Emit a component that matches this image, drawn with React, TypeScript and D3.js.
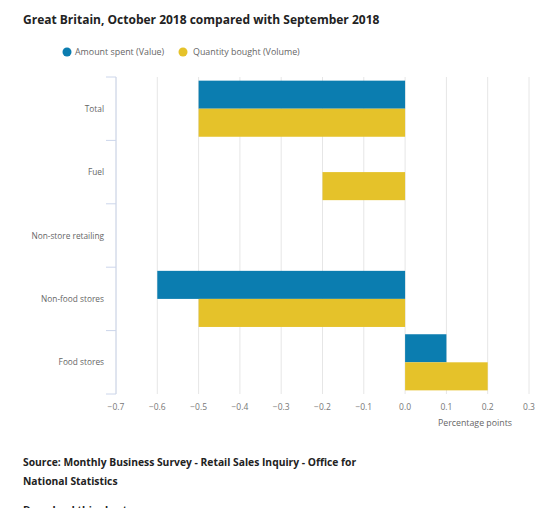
import * as d3 from "d3";

const categories = ["Total", "Fuel", "Non-store retailing", "Non-food stores", "Food stores"];
const seriesNames = ["Amount spent (Value)", "Quantity bought (Volume)"];
const valueSeries = [-0.5, null, null, -0.6, 0.1];
const volumeSeries = [-0.5, -0.2, null, -0.5, 0.2];
const xTicks = [-0.7, -0.6, -0.5, -0.4, -0.3, -0.2, -0.1, 0.0, 0.1, 0.2, 0.3];
const colors = ["#0b7db0", "#e5c22a"];

const width = 540;
const height = 508;
const font = "'Open Sans', 'Noto Sans', sans-serif";

export default function App() {
  const x = d3.scaleLinear().domain([-0.7, 0.3]).range([116, 529]);
  const y = d3.scaleBand().domain(categories).range([77, 394]).padding(0);
  const inner = d3
    .scaleBand()
    .domain(["value", "volume"])
    .range([0, y.bandwidth()])
    .paddingInner(0)
    .paddingOuter(0.13);

  const rows = categories.map((c, i) => ({
    cat: c,
    vals: [
      { key: "value", v: valueSeries[i], color: colors[0] },
      { key: "volume", v: volumeSeries[i], color: colors[1] },
    ],
  }));

  const boundaries = categories.map((c) => y(c) as number).concat([y.range()[1]]);

  return (
    <div style={{ position: "absolute", left: 0, top: 0 }}>
      <svg width={width} height={height} style={{ display: "block", fontFamily: font }}>
        <rect width={width} height={height} fill="#fff" />
        <text x={23} y={24} fontSize={12} fontWeight="bold" fill="#222">
          Great Britain, October 2018 compared with September 2018
        </text>

        {/* legend */}
        <g fontSize={8.9} fill="#666">
          <circle cx={67} cy={52} r={4.5} fill={colors[0]} />
          <text x={75} y={55}>{seriesNames[0]}</text>
          <circle cx={183} cy={52} r={4.5} fill={colors[1]} />
          <text x={193} y={55}>{seriesNames[1]}</text>
        </g>

        {/* grid */}
        {xTicks.map((t) => (
          <line
            key={t}
            x1={x(t)}
            x2={x(t)}
            y1={77}
            y2={394}
            stroke="#e6e6e6"
            strokeWidth={1}
          />
        ))}

        {/* category axis */}
        <line x1={116} x2={116} y1={77} y2={394} stroke="#ccd6eb" />
        {boundaries.map((b, i) => (
          <line key={i} x1={106} x2={116} y1={b} y2={b} stroke="#ccd6eb" />
        ))}

        {/* bars */}
        {rows.map((r) => (
          <g key={r.cat} transform={`translate(0,${y(r.cat)})`}>
            {r.vals.map((d) =>
              d.v == null ? null : (
                <rect
                  key={d.key}
                  x={Math.min(x(0), x(d.v))}
                  y={inner(d.key)}
                  width={Math.abs(x(d.v) - x(0))}
                  height={inner.bandwidth()}
                  fill={d.color}
                />
              )
            )}
          </g>
        ))}

        {/* category labels */}
        {categories.map((c) => (
          <text
            key={c}
            x={104}
            y={(y(c) as number) + y.bandwidth() / 2 + 3}
            textAnchor="end"
            fontSize={8.3}
            fill="#666"
          >
            {c}
          </text>
        ))}

        {/* x tick labels */}
        {xTicks.map((t) => (
          <text key={t} x={x(t)} y={410} textAnchor="middle" fontSize={8.5} fill="#777">
            {d3.format(".1f")(t)}
          </text>
        ))}
        <text x={512} y={426} textAnchor="end" fontSize={8.8} fill="#666">
          Percentage points
        </text>

        {/* source */}
        <g fontSize={10.3} fontWeight="bold" fill="#222">
          <text x={23} y={466}>Source: Monthly Business Survey - Retail Sales Inquiry - Office for</text>
          <text x={23} y={485}>National Statistics</text>
          <text x={23} y={514}>Download this chart</text>
        </g>
      </svg>
    </div>
  );
}
